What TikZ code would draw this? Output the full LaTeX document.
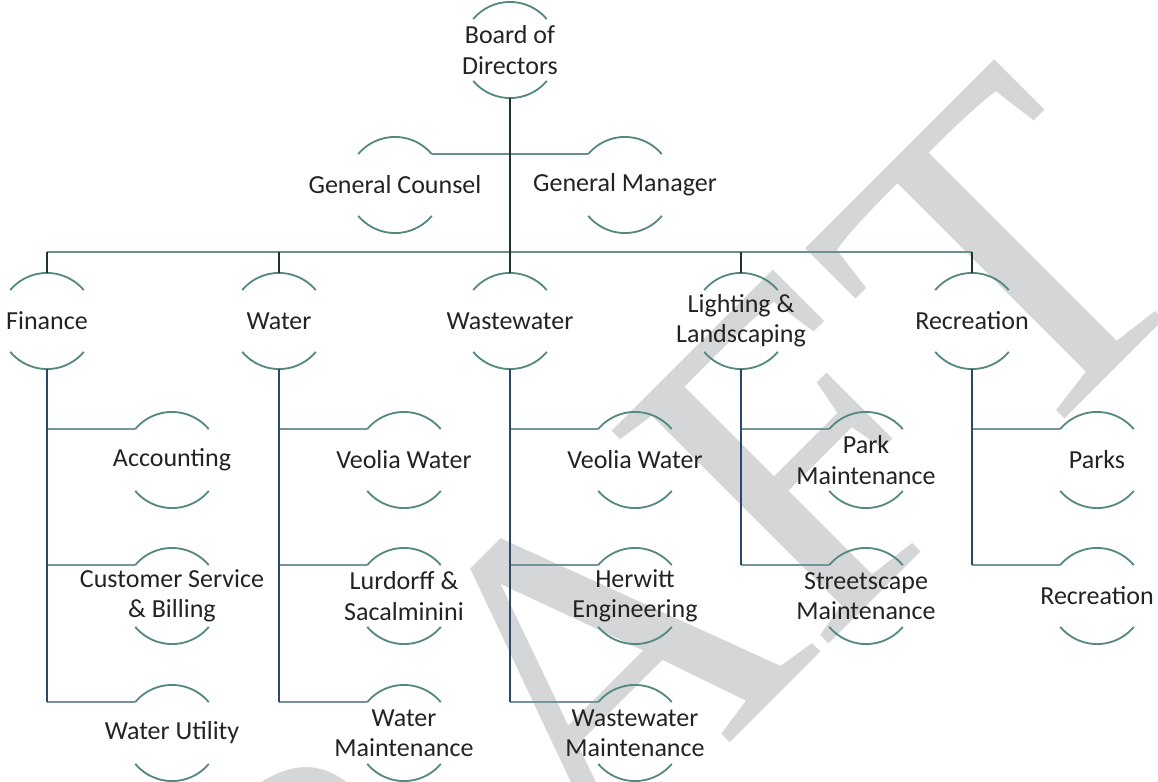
\documentclass[tikz,border=0pt]{standalone}
\usepackage{fontspec}
\setmainfont{Carlito}
\newfontfamily\stampfont{Liberation Serif}
\definecolor{arccol}{RGB}{84,136,128}
\definecolor{trunkcol}{RGB}{30,52,40}
\definecolor{buscol}{RGB}{112,142,142}
\definecolor{vcol}{RGB}{42,72,108}
\definecolor{hcol}{RGB}{118,146,154}
\definecolor{txtcol}{RGB}{35,35,35}
\definecolor{stampcol}{RGB}{212,214,216}
\tikzset{
unittext/.style={align=center, text=txtcol, inner sep=0pt,
  font=\fontsize{18.5}{21.5}\selectfont},
arcline/.style={draw=arccol, line width=1.3pt},
unit/.pic={
  \node[unittext] (-txt) at (0,0) {#1};
  \draw[arcline] (-36.8,-30.9) arc[start angle=220, end angle=320, radius=48];
  \draw[arcline] (36.8,30.9) arc[start angle=40, end angle=140, radius=48];
  \coordinate (-top) at (0,-48);
  \coordinate (-bot) at (0,48);
  \coordinate (-left) at (-36.8,-30.9);
  \coordinate (-right) at (36.8,-30.9);
  },
stamp/.style={font=\stampfont\fontsize{330}{330}\selectfont, text=stampcol,
  rotate=45, anchor=base, inner sep=0pt},
trunk/.style={draw=trunkcol, line width=1.1pt},
busline/.style={draw=buscol, line width=1.1pt},
vline/.style={draw=vcol, line width=1.1pt},
hline/.style={draw=hcol, line width=1.1pt}
}

\begin{document}
\begin{tikzpicture}[x=0.025cm, y=-0.025cm]
\useasboundingbox (0,0) rectangle (1158,782);
% stamp behind the chart
\begin{scope}
  \clip (0,0) rectangle (1158,782);
  \node[stamp] (stampR) at (445,1022) {R};
  \node[stamp] (stampA) at (705,768) {A};
  \node[stamp] (stampF) at (909,564) {F};
  \node[stamp] (stampT) at (1115,369) {T};
\end{scope}
% top
\pic (bod) at (510,50) {unit={Board of\\Directors}};
\pic (gc) at (395,185) {unit={General Counsel}};
\pic (gm) at (625,185) {unit={General Manager}};
% departments
\pic (fin) at (47,321) {unit={Finance}};
\pic (wat) at (279,321) {unit={Water}};
\pic (ww) at (510,321) {unit={Wastewater}};
\pic (ll) at (741,321) {unit={Lighting \&\\Landscaping}};
\pic (rec) at (972,321) {unit={Recreation}};
% units
\pic (acc) at (172,460) {unit={Accounting}};
\pic (csb) at (172,596) {unit={Customer Service\\\& Billing}};
\pic (wu) at (172,733) {unit={Water Utility}};
\pic (vw) at (404,460) {unit={Veolia Water}};
\pic (ls) at (404,596) {unit={Lurdorff \&\\Sacalminini}};
\pic (wm) at (404,733) {unit={Water\\Maintenance}};
\pic (vwb) at (635,460) {unit={Veolia Water}};
\pic (he) at (635,596) {unit={Herwitt\\Engineering}};
\pic (wwm) at (635,733) {unit={Wastewater\\Maintenance}};
\pic (pm) at (866,460) {unit={Park\\Maintenance}};
\pic (sm) at (866,596) {unit={Streetscape\\Maintenance}};
\pic (pk) at (1097,460) {unit={Parks}};
\pic (rc) at (1097,596) {unit={Recreation}};

\coordinate (bus) at (510,252);
\draw[busline] (gc-right) -- (gm-left);
\draw[busline] (fin-top |- bus) -- (rec-top |- bus);
\draw[trunk] (bod-bot) -- (ww-top);
\foreach \d in {fin,wat,ll,rec}
  \draw[trunk] (\d-top |- bus) -- (\d-top);

% branches
\foreach \d/\u in {fin/acc,fin/csb,fin/wu,wat/vw,wat/ls,wat/wm,
  ww/vwb,ww/he,ww/wwm,ll/pm,ll/sm,rec/pk,rec/rc}
  \draw[hline] (\d-bot |- \u-left) -- (\u-left);
\draw[vline] (fin-bot) -- (fin-bot |- wu-left);
\draw[vline] (wat-bot) -- (wat-bot |- wm-left);
\draw[vline] (ww-bot) -- (ww-bot |- wwm-left);
\draw[vline] (ll-bot) -- (ll-bot |- sm-left);
\draw[vline] (rec-bot) -- (rec-bot |- rc-left);
\end{tikzpicture}
\end{document}
